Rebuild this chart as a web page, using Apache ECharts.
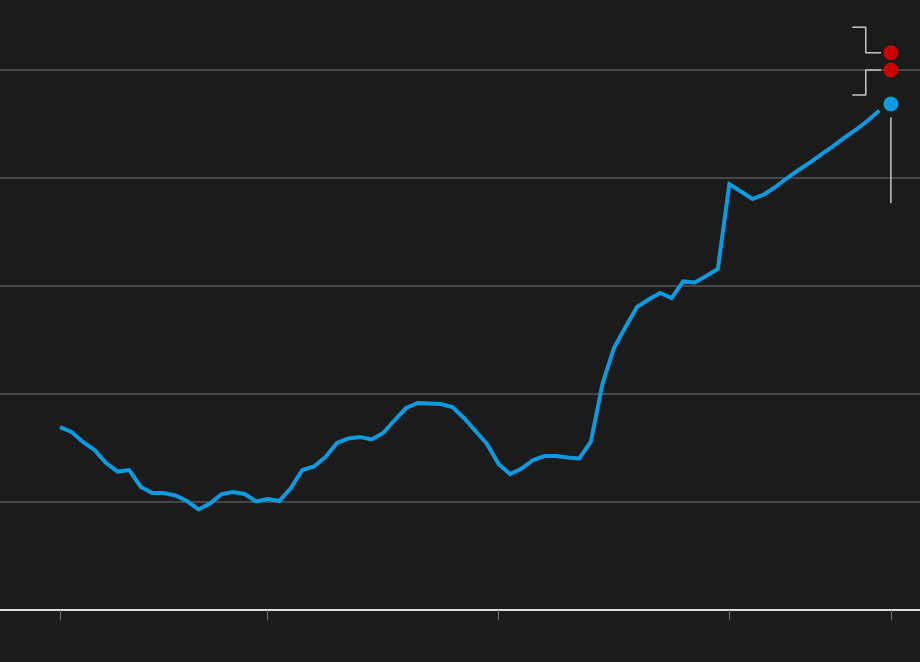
<!DOCTYPE html>
<html>
<head>
<meta charset="utf-8">
<script src="https://cdn.jsdelivr.net/npm/echarts@6/dist/echarts.min.js"></script>
<style>
  html, body { margin: 0; padding: 0; background: #1b1b1b; }
  #chart { width: 920px; height: 662px; }
</style>
</head>
<body>
<div id="chart"></div>
<script>
// Period index of each observation (0 = first observation)
const periods = Array.from({ length: 72 }, (_, i) => i);
// Main series values (gridline step = 1 unit)
const seriesValues = [
  1.694, 1.648, 1.556, 1.481, 1.361, 1.282, 1.296, 1.139, 1.083, 1.083,
  1.060, 1.009, 0.931, 0.986, 1.074, 1.093, 1.074, 1.005, 1.028, 1.009,
  1.130, 1.296, 1.329, 1.417, 1.546, 1.588, 1.602, 1.579, 1.639, 1.759,
  1.870, 1.917, 1.912, 1.907, 1.880, 1.778, 1.657, 1.537, 1.352, 1.259,
  1.310, 1.389, 1.426, 1.426, 1.412, 1.403, 1.560, 2.093, 2.426, 2.620,
  2.806, 2.875, 2.935, 2.889, 3.042, 3.032, 3.093, 3.157, 3.944, 3.875,
  3.806, 3.847, 3.917, 4.000, 4.074, 4.144, 4.222, 4.296, 4.375, 4.449,
  4.532, 4.625
];
// Latest point (highlighted)
const latestPeriod = 72;
const latestValue = 4.685;
// Target values (red markers)
const targetValues = [5.16, 5.0];
// Range line under the latest point
const rangeValues = [4.562, 3.766];
// Bracket annotation, in data units: [period, value]
const upperBracket = [[68.66, 5.395], [69.82, 5.395], [69.82, 5.16], [71.14, 5.16]];
const lowerBracket = [[71.14, 5.0], [69.82, 5.0], [69.82, 4.769], [68.66, 4.769]];
// x-axis tick positions (periods)
const tickPeriods = [0, 18, 38, 58, 72];

const lineData = periods.map((p, i) => [p, seriesValues[i]]);
const bracketData = upperBracket.concat([['-', '-']], lowerBracket);

const chart = echarts.init(document.getElementById('chart'), null, { renderer: 'canvas' });
chart.setOption({
  backgroundColor: '#1b1b1b',
  animation: false,
  grid: { left: 0, right: 0, top: 70, bottom: 52 },
  xAxis: {
    type: 'value',
    min: -5.2,
    max: 74.52,
    axisLine: { show: true, lineStyle: { color: '#dcdcdc', width: 2 } },
    axisTick: { show: true, customValues: tickPeriods, length: 10, lineStyle: { color: '#777', width: 1 } },
    axisLabel: { show: false },
    splitLine: { show: false }
  },
  yAxis: {
    type: 'value',
    min: 0,
    max: 5,
    interval: 1,
    axisLine: { show: false },
    axisTick: { show: false },
    axisLabel: { show: false },
    splitLine: { show: true, lineStyle: { color: '#474747', width: 2 } }
  },
  series: [
    {
      type: 'line',
      data: lineData,
      showSymbol: false,
      clip: false,
      lineStyle: { color: '#0a9be0', width: 4, join: 'miter' },
      z: 3
    },
    {
      type: 'line',
      data: bracketData,
      connectNulls: false,
      showSymbol: false,
      clip: false,
      lineStyle: { color: '#c8c8c8', width: 1.5 },
      z: 2
    },
    {
      type: 'line',
      data: rangeValues.map(v => [latestPeriod, v]),
      showSymbol: false,
      clip: false,
      lineStyle: { color: '#c8c8c8', width: 1.5 },
      z: 2
    },
    {
      type: 'scatter',
      data: targetValues.map(v => [latestPeriod, v]),
      symbolSize: 15,
      clip: false,
      itemStyle: { color: '#cc0000', opacity: 1 },
      z: 4
    },
    {
      type: 'scatter',
      data: [[latestPeriod, latestValue]],
      symbolSize: 15,
      clip: false,
      itemStyle: { color: '#0a9be0', opacity: 1 },
      z: 4
    }
  ]
});
</script>
</body>
</html>
